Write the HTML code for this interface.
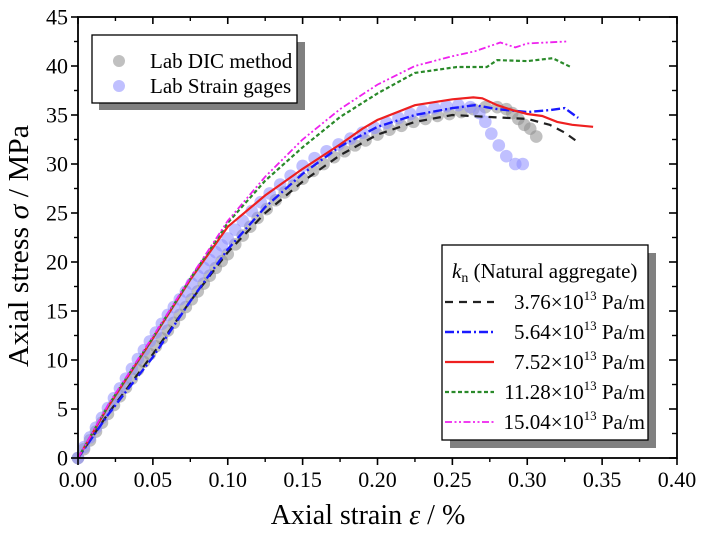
<!DOCTYPE html>
<html><head><meta charset="utf-8"><style>
body{margin:0;background:#fff}
svg{display:block;font-family:"Liberation Serif",serif}
</style></head><body>
<svg id="c" width="708" height="535" viewBox="0 0 708 535">
<g id="series"></g>
<g id="axes"></g>
</svg>
<script>
const xTicks=["0.00","0.05","0.10","0.15","0.20","0.25","0.30","0.35","0.40"];
const yTicks=["0","5","10","15","20","25","30","35","40","45"];
const dicX=[0,0.004,0.008,0.012,0.016,0.02,0.024,0.028,0.032,0.036,0.04,0.044,0.048,0.052,0.056,0.06,0.064,0.068,0.072,0.076,0.08,0.084,0.088,0.092,0.096,0.1,0.105,0.11,0.115,0.12,0.126,0.132,0.138,0.144,0.15,0.157,0.164,0.171,0.178,0.185,0.192,0.2,0.208,0.216,0.224,0.232,0.24,0.248,0.256,0.264,0.272,0.28,0.286,0.29,0.294,0.298,0.302,0.306];
const dicY=[0,0.9,1.8,2.7,3.6,4.5,5.4,6.3,7.2,8.1,9,9.8,10.6,11.4,12.2,13,13.8,14.6,15.4,16.2,17,17.8,18.6,19.4,20.1,20.8,21.8,22.7,23.6,24.5,25.4,26.3,27.1,27.8,28.5,29.3,30,30.7,31.3,31.9,32.4,33,33.5,33.9,34.3,34.6,34.9,35.1,35.3,35.6,35.8,35.8,35.6,35.2,34.6,34,33.6,32.8];
const sgX=[0,0.004,0.008,0.012,0.016,0.02,0.024,0.028,0.032,0.036,0.04,0.044,0.048,0.052,0.056,0.06,0.064,0.068,0.072,0.076,0.08,0.084,0.088,0.092,0.096,0.1,0.105,0.11,0.116,0.122,0.128,0.135,0.142,0.15,0.158,0.166,0.174,0.182,0.19,0.198,0.206,0.214,0.222,0.23,0.238,0.246,0.254,0.262,0.268,0.272,0.276,0.281,0.286,0.292,0.297];
const sgY=[0,1.1,2.1,3.1,4.1,5.1,6.1,7.1,8.1,9.1,10.1,11,11.9,12.8,13.7,14.6,15.4,16.2,17,17.8,18.6,19.4,20.2,21,21.7,22.4,23.3,24.2,25.2,26.1,27,27.9,28.8,29.8,30.6,31.3,32,32.6,33.2,33.7,34.2,34.7,35.1,35.4,35.7,35.9,36,35.8,35.2,34.3,33.1,31.9,30.8,30,30];
const k1X=[0,0.02,0.05,0.075,0.1,0.125,0.15,0.175,0.2,0.225,0.25,0.275,0.3,0.315,0.325,0.335];
const k1Y=[0,4.5,10.6,16,21,25,28.2,30.9,33,34.3,35,34.8,34.6,34,33.2,32.1];
const k2X=[0,0.02,0.05,0.075,0.1,0.125,0.15,0.175,0.2,0.225,0.25,0.265,0.28,0.3,0.315,0.325,0.334];
const k2Y=[0,4.4,10.3,16,21.3,25.6,29,31.8,33.8,35,35.7,36,35.6,35.3,35.5,35.7,34.7];
const k3X=[0,0.02,0.05,0.075,0.1,0.125,0.15,0.175,0.19,0.2,0.225,0.25,0.264,0.27,0.28,0.29,0.3,0.31,0.32,0.33,0.344];
const k3Y=[0,5.2,12.2,18.2,23.6,26.8,29.5,32,33.6,34.5,36,36.6,36.8,36.7,36,35.5,35.1,34.9,34.3,34,33.8];
const k4X=[0,0.02,0.05,0.075,0.1,0.125,0.15,0.175,0.2,0.225,0.253,0.273,0.28,0.3,0.317,0.329];
const k4Y=[0,5.3,12.3,18.3,24,28.3,31.7,34.8,37.2,39.3,39.9,39.9,40.6,40.5,40.8,39.9];
const k5X=[0,0.02,0.05,0.075,0.1,0.125,0.15,0.175,0.2,0.225,0.25,0.265,0.282,0.292,0.3,0.326];
const k5Y=[0,5.4,12.4,18.4,24.2,28.7,32.5,35.6,38.1,40,41,41.5,42.4,41.9,42.3,42.5];
const kLabels=["3.76","5.64","7.52","11.28","15.04"];

const NS="http://www.w3.org/2000/svg";
const X0=78,X1=677,Y0=458,Y1=17;
const xs=v=>X0+v/0.4*(X1-X0);
const ys=v=>Y0-v/45*(Y0-Y1);
function mk(tag,attrs,parent){const e=document.createElementNS(NS,tag);for(const k in attrs)e.setAttribute(k,attrs[k]);parent.appendChild(e);return e;}
const S=document.getElementById('series'),A=document.getElementById('axes');

function scatter(xa,ya,col,name){
  const g=mk('g',{},S);
  
  
  for(let i=0;i<xa.length;i++){
    const c=mk('circle',{cx:xs(xa[i]),cy:ys(ya[i]),r:6.3,fill:col,'fill-opacity':0.55},g);
    
    
  }
}
scatter(dicX,dicY,'#8c8c8c','lab-dic-series');
scatter(sgX,sgY,'#8c8cff','lab-strain-gage-series');

const styles=[
 {c:'#222',d:'8,6',w:2.2},
 {c:'#1a1aff',d:'9,3,2,3',w:2.4},
 {c:'#ee2020',d:'',w:2.2},
 {c:'#2a8a2a',d:'4,2.5',w:2.2},
 {c:'#ee22ee',d:'7,2.5,2,2.5,2,2.5',w:1.8}];
const lines=[[k1X,k1Y],[k2X,k2Y],[k3X,k3Y],[k4X,k4Y],[k5X,k5Y]];
lines.forEach((ln,i)=>{
  const d=ln[0].map((v,j)=>(j?'L':'M')+xs(v).toFixed(1)+','+ys(ln[1][j]).toFixed(1)).join('');
  const p=mk('path',{d:d,fill:'none',stroke:styles[i].c,'stroke-width':styles[i].w,'stroke-dasharray':styles[i].d},S);
  
  
});

const fr=mk('rect',{x:X0,y:Y1,width:X1-X0,height:Y0-Y1,fill:'none',stroke:'#000','stroke-width':1.8},A);


xTicks.forEach((t,i)=>{
  const v=parseFloat(t),x=xs(v);
  mk('line',{x1:x,y1:Y0,x2:x,y2:Y0+7,stroke:'#000','stroke-width':1.6},A);
  mk('line',{x1:x,y1:Y1,x2:x,y2:Y1+7,stroke:'#000','stroke-width':1.6},A);
  if(i<xTicks.length-1){const xm=xs(v+0.025);
    mk('line',{x1:xm,y1:Y0,x2:xm,y2:Y0+4,stroke:'#000','stroke-width':1.4},A);
    mk('line',{x1:xm,y1:Y1,x2:xm,y2:Y1+4,stroke:'#000','stroke-width':1.4},A);}
  const tx=mk('text',{x:x,y:Y0+29,'font-size':22,'text-anchor':'middle'},A);
  tx.textContent=t;
  
  
});
yTicks.forEach((t,i)=>{
  const v=parseFloat(t),y=ys(v);
  mk('line',{x1:X0-7,y1:y,x2:X0,y2:y,stroke:'#000','stroke-width':1.6},A);
  mk('line',{x1:X1-8,y1:y,x2:X1,y2:y,stroke:'#000','stroke-width':1.6},A);
  if(i<yTicks.length-1){const ym=ys(v+2.5);
    mk('line',{x1:X0-4,y1:ym,x2:X0,y2:ym,stroke:'#000','stroke-width':1.4},A);
    mk('line',{x1:X1-5,y1:ym,x2:X1,y2:ym,stroke:'#000','stroke-width':1.4},A);}
  const tx=mk('text',{x:X0-10,y:y+7.5,'font-size':22,'text-anchor':'end'},A);
  tx.textContent=t;
  
  
});
</script>
<svg style="position:absolute;left:0;top:0" width="708" height="535">
<text x="368" y="524" font-size="28" text-anchor="middle" font-family="Liberation Serif,serif">Axial strain <tspan font-style="italic">ε</tspan> / %</text>
<text transform="translate(28,246) rotate(-90)" font-size="28" text-anchor="middle" textLength="242" lengthAdjust="spacingAndGlyphs" font-family="Liberation Serif,serif">Axial stress <tspan font-style="italic">σ</tspan> / MPa</text>
<g font-family="Liberation Serif,serif" font-size="21">
<rect x="99" y="42" width="206" height="68" fill="#808080"/>
<rect x="92" y="35" width="205" height="68" fill="#fff" stroke="#000" stroke-width="1.3"/>
<circle cx="119" cy="61" r="6" fill="#8c8c8c" fill-opacity="0.55"/>
<text x="150" y="68">Lab DIC method</text>
<circle cx="119" cy="86" r="6" fill="#8c8cff" fill-opacity="0.55"/>
<text x="150" y="93">Lab Strain gages</text>
</g>
<g font-family="Liberation Serif,serif" font-size="21">
<rect x="450" y="253" width="206" height="195" fill="#808080"/>
<rect x="442" y="245" width="206" height="195" fill="#fff" stroke="#000" stroke-width="1.3"/>
<text x="452" y="278"><tspan font-style="italic">k</tspan><tspan font-size="14" dy="4">n</tspan><tspan dy="-4"> (Natural aggregate)</tspan></text>
<line x1="445" y1="302" x2="494" y2="302" stroke="#222" stroke-width="2.2" stroke-dasharray="8,6"/>
<text x="645" y="309" text-anchor="end">3.76×10<tspan font-size="13" dy="-9">13</tspan><tspan dy="9"> Pa/m</tspan></text>
<line x1="445" y1="332" x2="494" y2="332" stroke="#1a1aff" stroke-width="2.4" stroke-dasharray="9,3,2,3"/>
<text x="645" y="339" text-anchor="end">5.64×10<tspan font-size="13" dy="-9">13</tspan><tspan dy="9"> Pa/m</tspan></text>
<line x1="445" y1="362" x2="494" y2="362" stroke="#ee2020" stroke-width="2.2"/>
<text x="645" y="369" text-anchor="end">7.52×10<tspan font-size="13" dy="-9">13</tspan><tspan dy="9"> Pa/m</tspan></text>
<line x1="445" y1="392" x2="494" y2="392" stroke="#2a8a2a" stroke-width="2.2" stroke-dasharray="4,2.5"/>
<text x="645" y="399" text-anchor="end">11.28×10<tspan font-size="13" dy="-9">13</tspan><tspan dy="9"> Pa/m</tspan></text>
<line x1="445" y1="422" x2="494" y2="422" stroke="#ee22ee" stroke-width="1.8" stroke-dasharray="7,2.5,2,2.5,2,2.5"/>
<text x="645" y="429" text-anchor="end">15.04×10<tspan font-size="13" dy="-9">13</tspan><tspan dy="9"> Pa/m</tspan></text>
</g>
</svg>
</body></html>
